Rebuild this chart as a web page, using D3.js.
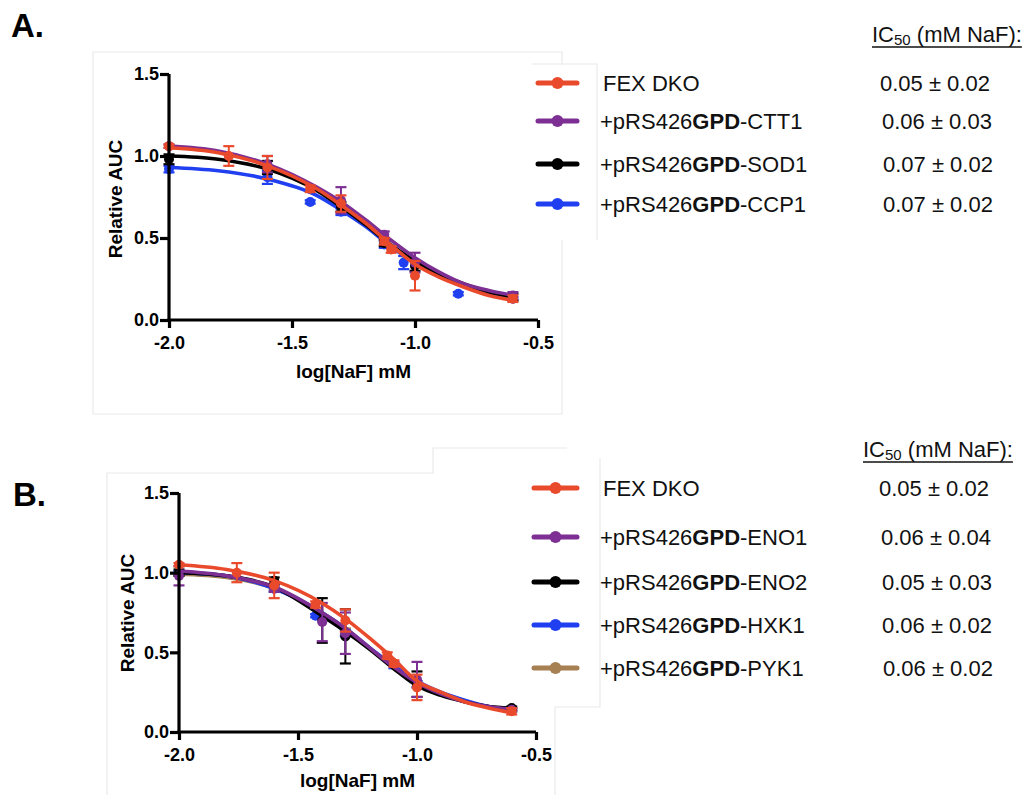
<!DOCTYPE html>
<html>
<head>
<meta charset="utf-8">
<script src="https://cdn.jsdelivr.net/npm/d3@7"></script>
<style>
  html, body { margin: 0; padding: 0; background: #fff; }
  svg { display: block; font-family: "Liberation Sans", Arial, Helvetica, sans-serif; }
</style>
</head>
<body>
<svg id="chart" width="1036" height="795"></svg>
<script>
// ---------------- DATA ----------------
const xTicks = [-2.0, -1.5, -1.0, -0.5];
const yTicks = [0.0, 0.5, 1.0, 1.5];
const xTickLabels = ["-2.0", "-1.5", "-1.0", "-0.5"];
const yTickLabels = ["0.0", "0.5", "1.0", "1.5"];

// measured doses, log[NaF] mM
const doseLog = [-2.0, -1.757, -1.6, -1.426, -1.398, -1.301, -1.125, -1.097, -1.046, -1.0, -0.824, -0.602];
const curveX = [-2.0, -1.8, -1.6, -1.4, -1.3, -1.2, -1.1, -1.0, -0.9, -0.8, -0.7, -0.6];

// ---- Panel A ----
const namesA = ["FEX DKO", "CTT1", "SOD1", "CCP1"];
const ic50A = ["0.05 \u00b1 0.02", "0.06 \u00b1 0.03", "0.07 \u00b1 0.02", "0.07 \u00b1 0.02"];
const colorsA = ["#ea4a2c", "#7d2f93", "#000000", "#1f3ff0"];
const meanA_FEX  = [1.06, 1.00, 0.93, 0.80, null, 0.71, 0.48, 0.43, null, 0.27, null, 0.13];
const semA_FEX   = [0.01, 0.06, 0.07, 0.02, null, 0.05, 0.02, 0.02, null, 0.09, null, 0.02];
const meanA_CTT1 = [1.06, null, 0.95, null, null, 0.73, 0.52, null, null, 0.35, null, 0.15];
const semA_CTT1  = [0.01, null, 0.05, null, null, 0.08, 0.02, null, null, 0.06, null, 0.02];
const meanA_SOD1 = [0.98, null, 0.93, null, null, 0.69, 0.47, null, null, 0.33, null, 0.14];
const semA_SOD1  = [0.03, null, 0.04, null, null, 0.03, 0.02, null, null, 0.03, null, 0.02];
const meanA_CCP1 = [0.92, null, 0.87, 0.72, null, 0.66, 0.46, null, 0.35, null, 0.16, 0.13];
const semA_CCP1  = [0.02, null, 0.04, 0.01, null, 0.02, 0.02, null, 0.04, null, 0.01, 0.01];
const fitA_FEX  = [1.05, 1.02, 0.94, 0.80, 0.70, 0.59, 0.46, 0.34, 0.26, 0.20, 0.15, 0.12];
const fitA_CTT1 = [1.06, 1.03, 0.95, 0.81, 0.72, 0.61, 0.49, 0.38, 0.29, 0.22, 0.18, 0.15];
const fitA_SOD1 = [1.00, 0.98, 0.92, 0.79, 0.69, 0.58, 0.46, 0.36, 0.28, 0.22, 0.17, 0.14];
const fitA_CCP1 = [0.93, 0.91, 0.86, 0.76, 0.67, 0.57, 0.45, 0.35, 0.27, 0.21, 0.16, 0.13];

// ---- Panel B ----
const namesB = ["FEX DKO", "ENO1", "ENO2", "HXK1", "PYK1"];
const ic50B = ["0.05 \u00b1 0.02", "0.06 \u00b1 0.04", "0.05 \u00b1 0.03", "0.06 \u00b1 0.02", "0.06 \u00b1 0.02"];
const colorsB = ["#ea4a2c", "#7d2f93", "#000000", "#1f3ff0", "#a67f52"];
const meanB_FEX  = [1.05, 1.00, 0.92, 0.80, null, 0.70, 0.48, 0.43, null, 0.28, null, 0.13];
const semB_FEX   = [0.01, 0.06, 0.08, 0.02, null, 0.07, 0.02, 0.02, null, 0.08, null, 0.02];
const meanB_ENO1 = [0.98, null, 0.90, null, 0.69, 0.62, null, null, null, 0.33, null, 0.14];
const semB_ENO1  = [0.06, null, 0.02, null, 0.12, 0.13, null, null, null, 0.11, null, 0.01];
const meanB_ENO2 = [1.00, null, 0.95, null, 0.70, 0.60, null, null, null, 0.30, null, 0.15];
const semB_ENO2  = [0.02, null, 0.02, null, 0.14, 0.17, null, null, null, 0.08, null, 0.01];
const meanB_HXK1 = [1.00, null, 0.90, 0.73, null, 0.62, null, 0.42, null, 0.30, null, 0.14];
const semB_HXK1  = [0.01, null, 0.02, 0.01, null, 0.02, null, 0.02, null, 0.02, null, 0.01];
const meanB_PYK1 = [0.99, null, 0.91, null, null, 0.63, null, null, null, 0.30, null, 0.14];
const semB_PYK1  = [0.01, null, 0.02, null, null, 0.02, null, null, null, 0.02, null, 0.01];
const fitB_FEX  = [1.05, 1.02, 0.95, 0.81, 0.71, 0.59, 0.46, 0.32, 0.25, 0.19, 0.15, 0.12];
const fitB_ENO1 = [1.01, 0.98, 0.91, 0.75, 0.65, 0.53, 0.41, 0.31, 0.24, 0.19, 0.16, 0.14];
const fitB_ENO2 = [1.00, 0.98, 0.91, 0.73, 0.63, 0.52, 0.40, 0.29, 0.23, 0.19, 0.16, 0.15];
const fitB_HXK1 = [1.00, 0.98, 0.90, 0.75, 0.65, 0.53, 0.42, 0.32, 0.25, 0.20, 0.16, 0.14];
const fitB_PYK1 = [0.99, 0.97, 0.90, 0.75, 0.65, 0.53, 0.41, 0.31, 0.24, 0.19, 0.16, 0.14];

// ---------------- DRAW ----------------
const svg = d3.select("#chart");
const FONT = '"Liberation Sans", Arial, Helvetica, sans-serif';

function faint(points) {
  svg.append("path").attr("d", d3.line()(points))
    .attr("fill", "none").attr("stroke", "#e9e9e9").attr("stroke-width", 1.2);
}
// faint panel frames (pasted boxes in original figure)
faint([[562, 65], [562, 52], [93, 52], [93, 414], [562, 414], [562, 240]]);
faint([[532, 64], [597, 64], [597, 240]]);
faint([[107, 795], [107, 473], [433, 473], [433, 448], [567, 448]]);
faint([[555, 795], [555, 707], [600, 707], [600, 458]]);

function buildSeries(means, sems, fits) {
  return means.map((m, i) => ({
    pts: doseLog.map((x, j) => ({ x, y: m[j], e: sems[i][j] })).filter(d => d.y !== null),
    fit: curveX.map((x, j) => ({ x, y: fits[i][j] }))
  }));
}

function drawPanel(cfg) {
  const x = d3.scaleLinear().domain([-2.0, -0.5]).range([cfg.x0, cfg.x1]);
  const y = d3.scaleLinear().domain([0, 1.5]).range([cfg.y0, cfg.y1]);
  const g = svg.append("g");

  const lineGen = d3.line().x(d => x(d.x)).y(d => y(d.y)).curve(d3.curveMonotoneX);

  // draw back-to-front (first series ends on top)
  const order = cfg.series.map((s, i) => i).reverse();
  order.forEach(i => {
    const s = cfg.series[i], col = cfg.colors[i];
    const sg = g.append("g");
    sg.append("path").datum(s.fit).attr("d", lineGen)
      .attr("fill", "none").attr("stroke", col).attr("stroke-width", 3.6)
      .attr("stroke-linecap", "round");
    const eb = sg.selectAll("g.eb").data(s.pts).enter().append("g");
    eb.append("line")
      .attr("x1", d => x(d.x)).attr("x2", d => x(d.x))
      .attr("y1", d => y(d.y - d.e)).attr("y2", d => y(d.y + d.e))
      .attr("stroke", col).attr("stroke-width", 2);
    [-1, 1].forEach(sign => {
      eb.append("line")
        .attr("x1", d => x(d.x) - 5.5).attr("x2", d => x(d.x) + 5.5)
        .attr("y1", d => y(d.y + sign * d.e)).attr("y2", d => y(d.y + sign * d.e))
        .attr("stroke", col).attr("stroke-width", 2.2);
    });
    sg.selectAll("circle").data(s.pts).enter().append("circle")
      .attr("cx", d => x(d.x)).attr("cy", d => y(d.y)).attr("r", 5)
      .attr("fill", col);
  });

  // axes
  const xAxis = d3.axisBottom(x).tickValues(xTicks).tickFormat((d, i) => xTickLabels[i])
    .tickSizeInner(8).tickSizeOuter(0).tickPadding(8);
  const yAxis = d3.axisLeft(y).tickValues(yTicks).tickFormat((d, i) => yTickLabels[i])
    .tickSizeInner(9).tickSizeOuter(0).tickPadding(1);
  const gx = g.append("g").attr("transform", `translate(0,${cfg.y0})`).call(xAxis);
  const gy = g.append("g").attr("transform", `translate(${cfg.x0},0)`).call(yAxis);
  [gx, gy].forEach(a => {
    a.select(".domain").attr("stroke", "#000").attr("stroke-width", 3.2);
    a.selectAll(".tick line").attr("stroke", "#000").attr("stroke-width", 3.2);
    a.selectAll(".tick text").attr("fill", "#000").attr("font-family", FONT)
      .attr("font-weight", "bold").attr("font-size", 18);
  });
  // make axes meet cleanly at the corner
  gx.select(".domain").attr("d", `M${cfg.x0 - 1.6},0H${cfg.x1}`);
  gy.select(".domain").attr("d", `M0,${cfg.y1}V${cfg.y0 + 1.6}`);

  g.append("text").attr("x", (cfg.x0 + cfg.x1) / 2).attr("y", cfg.xTitleY)
    .attr("text-anchor", "middle").attr("font-family", FONT).attr("font-weight", "bold")
    .attr("font-size", 19).text("log[NaF] mM");
  g.append("text").attr("transform", `translate(${cfg.yTitleX},${cfg.yTitleCY}) rotate(-90)`)
    .attr("text-anchor", "middle").attr("dominant-baseline", "central")
    .attr("font-family", FONT).attr("font-weight", "bold").attr("font-size", 19)
    .text("Relative AUC");

  // panel label
  svg.append("text").attr("x", cfg.labelX).attr("y", cfg.labelY)
    .attr("font-family", FONT).attr("font-weight", "bold").attr("font-size", 33)
    .text(cfg.label);

  // IC50 header
  const hdr = svg.append("text").attr("x", cfg.hdrX).attr("y", cfg.hdrY)
    .attr("font-family", FONT).attr("font-size", 22).attr("fill", "#111");
  hdr.append("tspan").text("IC");
  hdr.append("tspan").attr("font-size", 15).attr("dy", 3).text("50");
  hdr.append("tspan").attr("dy", -3).text(" (mM NaF):");
  const bb = hdr.node().getBBox();
  svg.append("line").attr("x1", bb.x).attr("x2", bb.x + bb.width)
    .attr("y1", cfg.hdrY + 5).attr("y2", cfg.hdrY + 5)
    .attr("stroke", "#111").attr("stroke-width", 1.3);

  // legend rows
  cfg.names.forEach((nm, i) => {
    const ry = cfg.rowY[i], col = cfg.colors[i];
    svg.append("line").attr("x1", cfg.legX0).attr("x2", cfg.legX1)
      .attr("y1", ry).attr("y2", ry).attr("stroke", col).attr("stroke-width", 5)
      .attr("stroke-linecap", "round");
    svg.append("circle").attr("cx", (cfg.legX0 + cfg.legX1) / 2).attr("cy", ry)
      .attr("r", 6).attr("fill", col);
    const t = svg.append("text").attr("x", i === 0 ? cfg.textX + 3 : cfg.textX).attr("y", ry)
      .attr("dy", "0.36em").attr("font-family", FONT).attr("font-size", 22).attr("fill", "#111");
    if (i === 0) {
      t.text(nm);
    } else {
      t.append("tspan").text("+pRS426");
      t.append("tspan").attr("font-weight", "bold").text("GPD");
      t.append("tspan").text("-" + nm);
    }
    svg.append("text").attr("x", cfg.valX[i]).attr("y", ry).attr("dy", "0.36em")
      .attr("font-family", FONT).attr("font-size", 22).attr("fill", "#111")
      .text(cfg.ic50[i]);
  });
}

drawPanel({
  x0: 169, x1: 538, y0: 320, y1: 74,
  xTitleY: 378, yTitleX: 115, yTitleCY: 199,
  series: buildSeries([meanA_FEX, meanA_CTT1, meanA_SOD1, meanA_CCP1],
                      [semA_FEX, semA_CTT1, semA_SOD1, semA_CCP1],
                      [fitA_FEX, fitA_CTT1, fitA_SOD1, fitA_CCP1]),
  colors: colorsA, names: namesA, ic50: ic50A,
  label: "A.", labelX: 11, labelY: 37,
  hdrX: 872, hdrY: 42,
  legX0: 538, legX1: 577, textX: 600,
  rowY: [83, 121, 164, 204],
  valX: [880, 882, 883, 883]
});

drawPanel({
  x0: 179, x1: 536, y0: 732, y1: 493,
  xTitleY: 787, yTitleX: 127, yTitleCY: 613,
  series: buildSeries([meanB_FEX, meanB_ENO1, meanB_ENO2, meanB_HXK1, meanB_PYK1],
                      [semB_FEX, semB_ENO1, semB_ENO2, semB_HXK1, semB_PYK1],
                      [fitB_FEX, fitB_ENO1, fitB_ENO2, fitB_HXK1, fitB_PYK1]),
  colors: colorsB, names: namesB, ic50: ic50B,
  label: "B.", labelX: 13, labelY: 506,
  hdrX: 863, hdrY: 457,
  legX0: 534, legX1: 577, textX: 600,
  rowY: [488, 537, 582, 625, 668],
  valX: [879, 881, 882, 882, 883]
});
</script>
</body>
</html>
